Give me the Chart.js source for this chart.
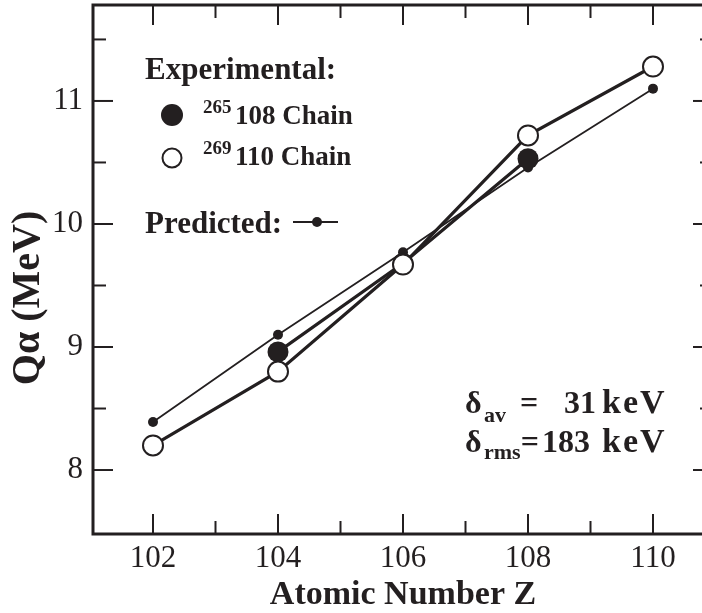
<!DOCTYPE html>
<html><head><meta charset="utf-8">
<script src="https://cdn.jsdelivr.net/npm/chart.js@4/dist/chart.umd.min.js"></script>
<style>html,body{margin:0;padding:0;background:#fff;overflow:hidden;width:702px;height:613px}canvas{display:block}</style>
</head><body>
<canvas id="c" width="720" height="613"></canvas>
<script>
// ---- data ----
const chain265Z = [104, 106, 108];
const chain265Q = [8.96, 9.68, 10.53];
const chain269Z = [102, 104, 106, 108, 110];
const chain269Q = [8.20, 8.80, 9.67, 10.72, 11.28];
const predictedZ = [102, 104, 106, 108, 110];
const predictedQ = [8.39, 9.10, 9.77, 10.46, 11.10];
const xTickValues = [102, 104, 106, 108, 110];
const yTickValues = [8, 9, 10, 11];
const xMinorTicks = [102, 103, 104, 105, 106, 107, 108, 109, 110];
const yMinorTicks = [8, 8.5, 9, 9.5, 10, 10.5, 11, 11.5];
const yTitle = 'Q\u03b1 (MeV)';

const INK = '#231f20';
const SERIF = '"Liberation Serif", "Times New Roman", serif';

const pts = (xs, ys) => xs.map((x, i) => ({x: x, y: ys[i]}));

const framePlugin = {
  id: 'frame',
  beforeDatasetsDraw(chart) {
    const {ctx, chartArea: a, scales: {x, y}} = chart;
    ctx.save();
    ctx.strokeStyle = INK;
    ctx.lineWidth = 2;
    xMinorTicks.forEach(v => {
      const px = x.getPixelForValue(v);
      const len = (v % 2 === 0) ? 20 : 13;
      ctx.beginPath(); ctx.moveTo(px, a.bottom); ctx.lineTo(px, a.bottom - len); ctx.stroke();
      ctx.beginPath(); ctx.moveTo(px, a.top); ctx.lineTo(px, a.top + len); ctx.stroke();
    });
    yMinorTicks.forEach(v => {
      const py = y.getPixelForValue(v);
      const len = (v % 1 === 0) ? 20 : 13;
      ctx.beginPath(); ctx.moveTo(a.left, py); ctx.lineTo(a.left + len, py); ctx.stroke();
      ctx.beginPath(); ctx.moveTo(a.right, py); ctx.lineTo(a.right - len, py); ctx.stroke();
    });
    ctx.lineWidth = 3;
    ctx.strokeRect(a.left, a.top, a.right - a.left, a.bottom - a.top);
    ctx.restore();
  },
  afterDraw(chart) {
    const ctx = chart.ctx;
    ctx.save();
    ctx.fillStyle = INK;
    ctx.strokeStyle = INK;
    // y-axis title
    ctx.save();
    ctx.translate(29, 298);
    ctx.rotate(-Math.PI / 2);
    ctx.font = 'bold 40px ' + SERIF;
    ctx.textAlign = 'center';
    ctx.textBaseline = 'middle';
    ctx.fillText(yTitle, 0, 0);
    ctx.restore();

    ctx.textBaseline = 'alphabetic';
    ctx.textAlign = 'left';
    const big = 'bold 31px ' + SERIF;
    const mid = 'bold 27px ' + SERIF;
    const sup = 'bold 19px ' + SERIF;
    // legend
    ctx.font = big;
    ctx.fillText('Experimental:', 145, 79);
    ctx.beginPath(); ctx.arc(172, 115, 11, 0, Math.PI * 2); ctx.fill();
    ctx.font = sup; ctx.fillText('265', 203, 113);
    ctx.font = mid; ctx.fillText('108 Chain', 235, 124);
    ctx.lineWidth = 2;
    ctx.fillStyle = '#fff';
    ctx.beginPath(); ctx.arc(172, 158, 9.5, 0, Math.PI * 2); ctx.fill(); ctx.stroke();
    ctx.fillStyle = INK;
    ctx.font = sup; ctx.fillText('269', 203, 154);
    ctx.font = mid; ctx.fillText('110 Chain', 235, 165);
    ctx.font = big;
    ctx.fillText('Predicted:', 145, 233);
    ctx.lineWidth = 2;
    ctx.beginPath(); ctx.moveTo(293, 222); ctx.lineTo(338, 222); ctx.stroke();
    ctx.beginPath(); ctx.arc(317, 222, 5, 0, Math.PI * 2); ctx.fill();
    // deviation annotations
    const num = 'bold 32px ' + SERIF;
    const sub = 'bold 22px ' + SERIF;
    const keV = (yb) => {
      ctx.font = 'bold 34px ' + SERIF; ctx.textAlign = 'left';
      try { ctx.letterSpacing = '2px'; } catch (e) {}
      ctx.fillText('keV', 602, yb);
      try { ctx.letterSpacing = '0px'; } catch (e) {}
    };
    ctx.font = num; ctx.fillText('\u03b4', 465, 413);
    ctx.font = sub; ctx.fillText('av', 484, 422);
    ctx.font = num; ctx.fillText('=', 520, 413);
    ctx.textAlign = 'right'; ctx.fillText('31', 596, 413);
    keV(413);
    ctx.textAlign = 'left';
    ctx.font = num; ctx.fillText('\u03b4', 465, 452);
    ctx.font = sub; ctx.fillText('rms', 484, 459);
    const rmsEnd = 484 + ctx.measureText('rms').width;
    ctx.font = num; ctx.fillText('=', rmsEnd, 452);
    ctx.fillText('183', rmsEnd + ctx.measureText('=').width + 3, 452);
    keV(452);
    ctx.restore();
  }
};

const zeroPad = s => { s.paddingTop = 0; s.paddingBottom = 0; s.paddingLeft = 0; s.paddingRight = 0; };

new Chart(document.getElementById('c'), {
  type: 'scatter',
  data: {
    datasets: [
      {
        label: '269110 Chain',
        data: pts(chain269Z, chain269Q),
        showLine: true,
        borderColor: INK, borderWidth: 3.2,
        pointRadius: 10, pointBorderWidth: 2,
        pointBackgroundColor: '#fff', pointBorderColor: INK,
        order: 0
      },
      {
        label: '265108 Chain',
        data: pts(chain265Z, chain265Q),
        showLine: true,
        borderColor: INK, borderWidth: 3.2,
        pointRadius: 10.5, pointBorderWidth: 0,
        pointBackgroundColor: INK, pointBorderColor: INK,
        order: 1
      },
      {
        label: 'Predicted',
        data: pts(predictedZ, predictedQ),
        showLine: true,
        borderColor: INK, borderWidth: 1.8,
        pointRadius: 5, pointBorderWidth: 0,
        pointBackgroundColor: INK, pointBorderColor: INK,
        order: 2
      }
    ]
  },
  options: {
    responsive: false,
    animation: false,
    devicePixelRatio: 1,
    layout: {autoPadding: false, padding: {top: 5, right: 7, left: 0, bottom: 0}},
    plugins: {legend: {display: false}, tooltip: {enabled: false}},
    elements: {line: {tension: 0}},
    clip: false,
    scales: {
      x: {
        type: 'linear', min: 101.04, max: 110.96,
        grid: {display: false, drawTicks: false},
        border: {display: false},
        afterBuildTicks: s => { s.ticks = xTickValues.map(v => ({value: v})); },
        afterFit: s => { s.height = 79; zeroPad(s); },
        ticks: {color: INK, font: {family: SERIF, size: 31}, padding: 6},
        title: {display: true, text: 'Atomic Number Z', color: INK,
          font: {family: SERIF, size: 34, weight: 'bold', lineHeight: 1.05}, padding: {top: 0, bottom: 0}}
      },
      y: {
        type: 'linear', min: 7.48, max: 11.78,
        grid: {display: false, drawTicks: false},
        border: {display: false},
        afterBuildTicks: s => { s.ticks = yTickValues.map(v => ({value: v})); },
        afterFit: s => { s.width = 93; zeroPad(s); },
        ticks: {color: INK, font: {family: SERIF, size: 31}, padding: 10},
        title: {display: false}
      }
    }
  },
  plugins: [framePlugin]
});
</script>
</body></html>
